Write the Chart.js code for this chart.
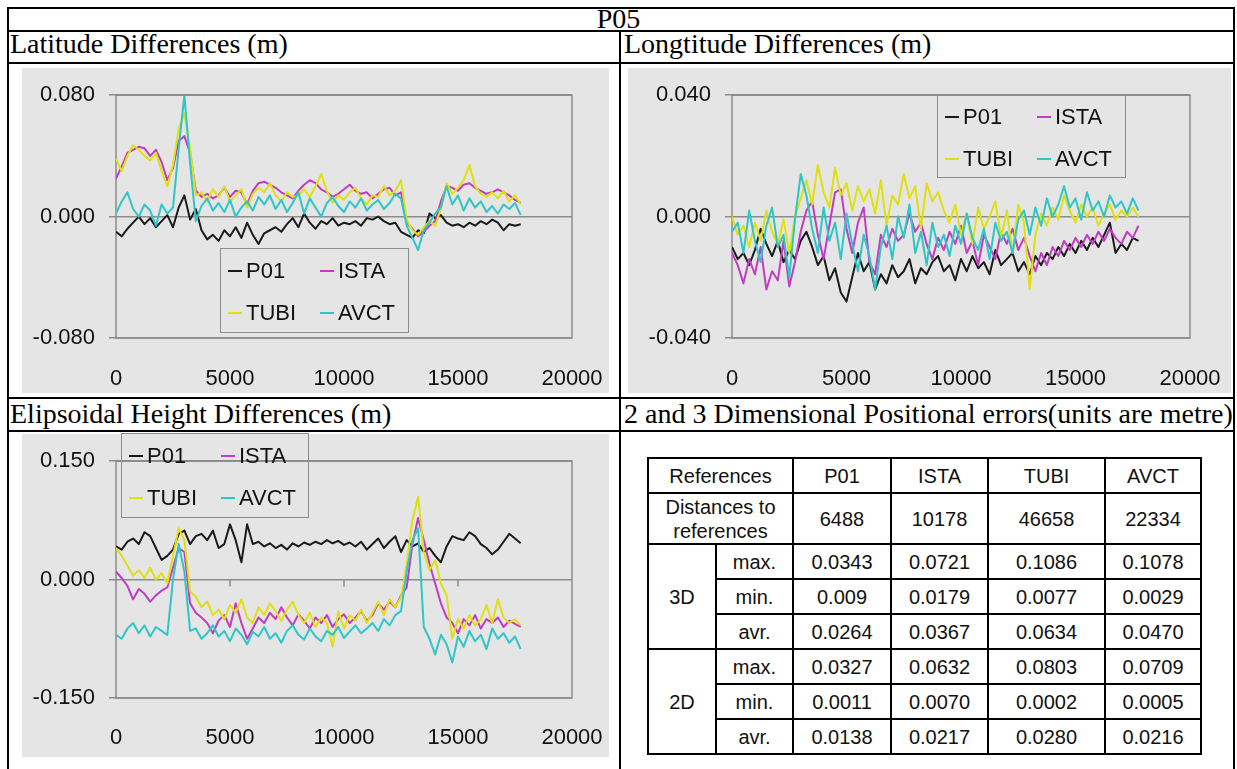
<!DOCTYPE html>
<html>
<head>
<meta charset="utf-8">
<script src="https://cdn.jsdelivr.net/npm/chart.js@4.4.1/dist/chart.umd.min.js"></script>
<style>
  body { margin: 0; width: 1237px; height: 769px; position: relative; overflow: hidden; background: #fff;
         font-family: "Liberation Serif", "Times New Roman", serif; }
  .hl { position: absolute; height: 2px; background: #000; }
  .vl { position: absolute; width: 2px; background: #000; }
  .cap { position: absolute; font-size: 28px; line-height: 28px; color: #000; white-space: nowrap; }
  .panel { position: absolute; background: #e5e5e5; }
  canvas { position: absolute; }
  .legend { position: absolute; border: 1px solid #8c8c8c; box-sizing: border-box;
            font-family: "Liberation Sans", Arial, sans-serif; font-size: 22px; color: #111; }
  .legend .dash { position: absolute; width: 14px; height: 2px; }
  .legend .lab { position: absolute; line-height: 24px; }
  #stats { position: absolute; left: 647px; top: 457px; border-collapse: collapse; table-layout: fixed;
           font-family: "Liberation Sans", Arial, sans-serif; font-size: 20px; color: #111; }
  #stats td { border: 2px solid #000; text-align: center; padding: 0; line-height: 24px; }
</style>
</head>
<body>
<div class="hl" style="left:7px;top:7px;width:1228px"></div>
<div class="hl" style="left:7px;top:30px;width:1228px"></div>
<div class="hl" style="left:7px;top:62px;width:1228px"></div>
<div class="hl" style="left:7px;top:397px;width:1228px"></div>
<div class="hl" style="left:7px;top:430px;width:1228px"></div>
<div class="vl" style="left:7px;top:7px;height:762px"></div>
<div class="vl" style="left:1233px;top:7px;height:762px"></div>
<div class="vl" style="left:619px;top:30px;height:739px"></div>

<div class="cap" style="left:0;width:1237px;text-align:center;top:5px">P05</div>
<div class="cap" style="left:10px;top:30px">Latitude Differences (m)</div>
<div class="cap" style="left:624px;top:30px">Longtitude Differences (m)</div>
<div class="cap" style="left:10px;top:400px">Elipsoidal Height Differences (m)</div>
<div class="cap" style="left:624px;top:400px">2 and 3 Dimensional Positional errors(units are metre)</div>

<div class="panel" style="left:22px;top:68px;width:587px;height:325px"></div>
<div class="panel" style="left:628px;top:68px;width:603px;height:325px"></div>
<div class="panel" style="left:22px;top:434px;width:587px;height:323px"></div>

<canvas id="lat" width="587" height="325" style="left:22px;top:68px"></canvas>
<canvas id="lon" width="603" height="325" style="left:628px;top:68px"></canvas>
<canvas id="hgt" width="587" height="323" style="left:22px;top:434px"></canvas>

<div class="legend" id="leg-lat" style="left:220px;top:248px;width:189px;height:85px"></div>
<div class="legend" id="leg-lon" style="left:937px;top:94px;width:189px;height:84px"></div>
<div class="legend" id="leg-hgt" style="left:121px;top:433px;width:188px;height:85px"></div>

<table id="stats"></table>

<script>
// epoch axis (s)
const xs = [0,250,500,750,1000,1250,1500,1750,2000,2250,2500,2750,
  3000,3250,3500,3750,4000,4250,4500,4750,5000,5250,5500,5750,
  6000,6250,6500,6750,7000,7250,7500,7750,8000,8250,8500,8750,
  9000,9250,9500,9750,10000,10250,10500,10750,11000,11250,11500,11750,
  12000,12250,12500,12750,13000,13250,13500,13750,14000,14250,14500,14750,
  15000,15250,15500,15750,16000,16250,16500,16750,17000,17250,17500,17750];

const stations = ["P01", "ISTA", "TUBI", "AVCT"];
const colors = ["#1a1a1a", "#c03cc0", "#e0e010", "#2ec6c6"];

// differences in mm (axis labels shown in metres)
const latP01 = [-10,-13,-8,-4,0,-5,-1,-7,-3,1,-7,6,
  14,-2,5,-9,-15,-12,-16,-9,-13,-7,-14,-4,
  -12,-18,-11,-9,-7,-10,-5,-1,-7,2,-4,-8,
  -3,-5,-1,-6,-4,-5,-3,-6,-1,-2,0,-3,
  -5,-4,-10,-12,-14,-9,-11,2,-1,1,-4,-6,
  -5,-7,-4,-6,-3,-5,-2,-4,-9,-5,-6,-5];
const latISTA = [25,33,42,44,46,45,40,44,36,24,32,50,
  53,42,17,13,15,12,14,19,13,17,16,8,
  17,22,23,21,19,16,14,12,17,21,24,22,
  18,16,13,15,18,21,17,15,16,12,15,18,
  19,14,16,-4,-8,-13,-10,-6,-3,10,20,19,
  17,21,22,19,17,15,16,18,16,14,11,9];
const latTUBI = [38,30,40,47,44,40,37,42,30,20,34,58,
  68,45,14,16,10,18,13,20,10,14,18,6,
  15,19,16,22,14,10,16,13,14,18,13,20,
  28,17,9,14,11,16,19,12,8,14,13,20,
  14,17,24,-2,-9,-12,-7,-3,-6,5,22,15,
  19,24,34,20,15,13,16,12,17,10,14,8];
const latAVCT = [2,10,16,5,0,8,4,-6,8,2,6,45,
  80,35,-3,7,12,4,9,3,11,0,6,10,
  4,13,8,14,5,11,3,9,16,2,12,6,
  0,9,13,7,3,10,6,12,4,8,11,5,
  9,15,12,-6,-14,-22,-9,-4,2,6,20,8,
  14,4,12,6,10,3,7,2,8,5,9,1];

const lonP01 = [-10,-14,-12,-16,-11,-4,-9,-13,-8,-15,-11,-14,
  -8,-5,-10,-16,-13,-21,-17,-25,-28,-20,-12,-18,
  -15,-24,-19,-22,-16,-20,-18,-14,-22,-17,-19,-15,
  -13,-18,-16,-21,-14,-18,-13,-17,-15,-19,-11,-16,
  -14,-12,-18,-15,-19,-13,-16,-12,-14,-10,-13,-9,
  -12,-8,-11,-7,-10,-6,-2,-12,-9,-11,-7,-8];
const lonISTA = [-12,-16,-22,-14,-19,-10,-24,-18,-21,-8,-23,-15,
  -5,2,5,-6,-14,-3,8,9,-4,-12,-2,3,
  -15,-19,-6,-10,-4,-8,-6,1,-5,-2,-9,-14,
  -7,-11,-5,-9,-3,-12,-8,-16,-6,-10,-14,-5,
  -9,-4,-11,-7,-13,-18,-12,-16,-10,-13,-8,-11,
  -7,-10,-6,-9,-5,-8,-4,-7,-9,-5,-7,-3];
const lonTUBI = [0,-6,-3,-10,-2,-8,2,-5,-9,-1,-12,0,
  6,12,4,17,8,3,16,7,11,2,10,5,
  9,1,12,-3,7,4,14,6,10,-4,11,5,
  8,2,-2,4,-6,1,-9,3,-4,0,5,-7,
  2,-12,4,-2,-24,-6,1,-3,3,-1,7,2,
  -2,4,0,3,-3,1,4,-1,2,0,3,0];
const lonAVCT = [-5,-2,-12,2,-8,-15,-3,3,-10,-6,-20,-1,
  14,7,-4,-12,3,-8,-2,-14,1,-9,-18,-6,
  -13,-24,-10,-3,-14,0,-7,4,-12,-5,-16,-2,
  -10,-6,-13,-3,-9,1,-7,-11,-4,-14,-2,-8,
  -5,-12,-1,2,-6,3,-3,6,0,4,10,3,
  6,-1,8,2,5,0,7,3,5,1,6,2];

const hgtP01 = [42,38,48,52,45,60,55,40,25,30,38,58,
  62,45,55,58,50,62,40,45,70,50,22,70,
  45,48,42,46,40,44,38,46,42,47,44,48,
  45,50,46,49,44,47,42,48,38,45,52,40,
  48,55,35,50,42,46,35,40,30,22,42,55,
  52,50,60,55,45,40,32,38,48,58,52,46];
const hgtISTA = [10,2,-8,-25,-12,-18,-28,-20,-14,-10,15,40,
  35,-30,-42,-48,-55,-68,-52,-45,-60,-30,-55,-75,
  -62,-48,-55,-42,-50,-35,-48,-58,-44,-52,-62,-48,
  -55,-45,-60,-50,-44,-55,-48,-40,-52,-45,-30,-38,
  -28,-35,-20,-10,45,78,50,20,-5,-30,-48,-55,
  -68,-50,-58,-45,-62,-50,-55,-48,-60,-52,-56,-60];
const hgtTUBI = [40,30,18,5,12,2,15,0,8,-5,30,65,
  50,-15,-22,-35,-28,-45,-38,-50,-32,-42,-25,-48,
  -55,-35,-45,-30,-40,-52,-38,-28,-45,-55,-42,-60,
  -48,-55,-85,-40,-62,-45,-52,-38,-55,-42,-28,-45,
  -25,-35,-22,20,75,105,35,12,25,-5,-20,-75,
  -50,-62,-45,-58,-50,-32,-55,-25,-48,-55,-50,-58];
const hgtAVCT = [-70,-75,-62,-55,-68,-58,-72,-60,-65,-70,0,45,
  10,-65,-62,-75,-68,-58,-72,-65,-78,-62,-70,-82,
  -66,-72,-60,-75,-68,-80,-65,-58,-70,-76,-62,-72,
  -78,-65,-70,-60,-74,-66,-58,-68,-62,-55,-65,-50,
  -58,-45,-40,10,50,65,-60,-75,-95,-70,-82,-105,
  -72,-85,-65,-78,-70,-88,-62,-75,-68,-80,-72,-88];

// table values
const distances = ["6488", "10178", "46658", "22334"];
const statNames = ["max.", "min.", "avr."];
const err3D = [
  ["0.0343", "0.0721", "0.1086", "0.1078"],
  ["0.009", "0.0179", "0.0077", "0.0029"],
  ["0.0264", "0.0367", "0.0634", "0.0470"],
];
const err2D = [
  ["0.0327", "0.0632", "0.0803", "0.0709"],
  ["0.0011", "0.0070", "0.0002", "0.0005"],
  ["0.0138", "0.0217", "0.0280", "0.0216"],
];

const TICK_FONT = { family: "Liberation Sans", size: 22 };

const plotBox = {
  id: "plotBox",
  beforeDatasetsDraw(chart, args, opts) {
    const a = chart.chartArea;
    const ctx = chart.ctx;
    ctx.save();
    ctx.strokeStyle = "#8c8c8c";
    ctx.lineWidth = 1.5;
    ctx.strokeRect(a.left, a.top, a.right - a.left, a.bottom - a.top);
    if (opts && opts.zeroTicks) {
      const y0 = chart.scales.y.getPixelForValue(0);
      ctx.beginPath();
      for (const t of opts.zeroTicks) {
        const px = chart.scales.x.getPixelForValue(t);
        ctx.moveTo(px, y0);
        ctx.lineTo(px, y0 + 7);
      }
      ctx.stroke();
    }
    ctx.restore();
  },
};

function makeChart(id, series, yMax, box) {
  const datasets = series.map((vals, k) => ({
    label: stations[k],
    data: vals.map((v, i) => ({ x: xs[i], y: v })),
    borderColor: colors[k],
    borderWidth: 2,
    pointRadius: 0,
    tension: 0,
    borderJoinStyle: "round",
    order: 4 - k,
  }));
  return new Chart(document.getElementById(id), {
    type: "line",
    data: { datasets },
    plugins: [plotBox],
    options: {
      responsive: false,
      animation: false,
      devicePixelRatio: 1,
      layout: { padding: { left: 0, top: box.top, right: box.right, bottom: 0 } },
      plugins: {
        legend: { display: false },
        tooltip: { enabled: false },
        plotBox: { zeroTicks: box.zeroTicks || null },
      },
      scales: {
        x: {
          type: "linear",
          min: 0,
          max: 20000,
          border: { display: false },
          // grid hidden; tick length only pushes the labels down
          grid: { display: false, drawTicks: true, tickLength: box.xGap },
          ticks: {
            stepSize: 5000,
            padding: 6,
            maxRotation: 0,
            autoSkip: false,
            color: "#111",
            font: TICK_FONT,
            callback: (v) => String(v),
          },
          afterFit: (s) => { s.height = box.xh; },
        },
        y: {
          min: -yMax,
          max: yMax,
          border: { display: false },
          grid: { color: "#8c8c8c", lineWidth: 1.5, tickLength: 7 },
          ticks: {
            stepSize: yMax,
            padding: 14,
            color: "#111",
            font: TICK_FONT,
            callback: (v) => (v / 1000).toFixed(3),
          },
          afterFit: (s) => { s.width = box.yw; },
        },
      },
    },
  });
}

function buildLegend(id) {
  const el = document.getElementById(id);
  stations.forEach((name, k) => {
    const col = k % 2;
    const row = Math.floor(k / 2);
    const left = col ? 99 : 7;
    const cy = row ? 64 : 22;
    const dash = document.createElement("div");
    dash.className = "dash";
    dash.style.left = left + "px";
    dash.style.top = (cy - 1) + "px";
    dash.style.background = colors[k];
    const lab = document.createElement("div");
    lab.className = "lab";
    lab.style.left = (left + 18) + "px";
    lab.style.top = (cy - 12) + "px";
    lab.textContent = name;
    el.appendChild(dash);
    el.appendChild(lab);
  });
}

function buildTable() {
  const t = document.getElementById("stats");
  const widths = [68, 77, 98, 97, 117, 96];
  const cg = document.createElement("colgroup");
  widths.forEach((w) => {
    const c = document.createElement("col");
    c.style.width = w + "px";
    cg.appendChild(c);
  });
  t.appendChild(cg);

  function row(h) {
    const tr = document.createElement("tr");
    tr.style.height = h + "px";
    t.appendChild(tr);
    return tr;
  }
  function cell(tr, html, attrs) {
    const td = document.createElement("td");
    td.innerHTML = html;
    for (const k in attrs || {}) td.setAttribute(k, attrs[k]);
    tr.appendChild(td);
  }

  let tr = row(35);
  cell(tr, "References", { colspan: 2 });
  stations.forEach((s) => cell(tr, s));

  tr = row(51);
  cell(tr, "Distances to<br>references", { colspan: 2 });
  distances.forEach((d) => cell(tr, d));

  [["3D", err3D], ["2D", err2D]].forEach(([dim, block]) => {
    block.forEach((vals, r) => {
      const tr2 = row(35);
      if (r === 0) cell(tr2, dim, { rowspan: 3 });
      cell(tr2, statNames[r]);
      vals.forEach((v) => cell(tr2, v));
    });
  });
}

makeChart("lat", [latP01, latISTA, latTUBI, latAVCT], 80,
  { top: 25, right: 37, xh: 55, xGap: 22, yw: 94 });
makeChart("lon", [lonP01, lonISTA, lonTUBI, lonAVCT], 40,
  { top: 25, right: 41, xh: 55, xGap: 22, yw: 104 });
makeChart("hgt", [hgtP01, hgtISTA, hgtTUBI, hgtAVCT], 150,
  { top: 21, right: 37, xh: 59, xGap: 21, yw: 94, zeroTicks: [5000, 10000, 15000] });

buildLegend("leg-lat");
buildLegend("leg-lon");
buildLegend("leg-hgt");
buildTable();
</script>
</body>
</html>
